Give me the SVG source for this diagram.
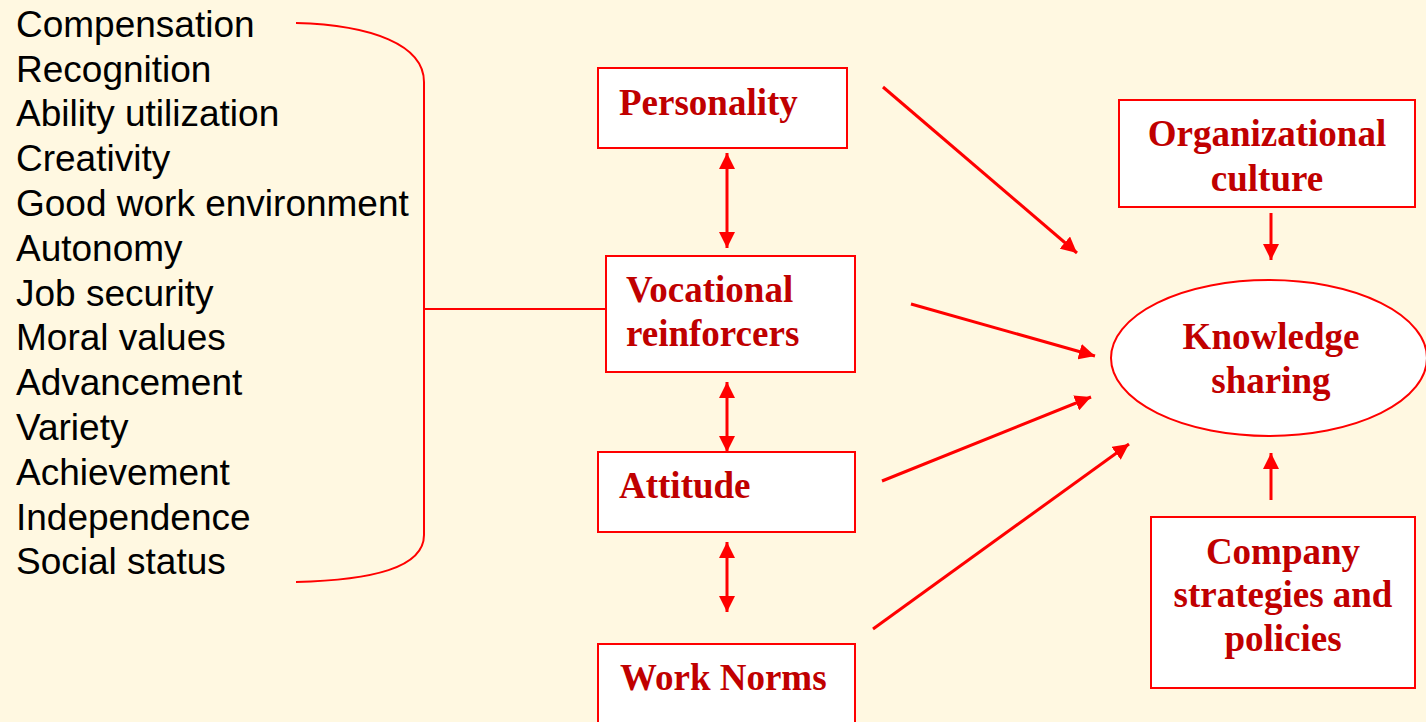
<svg xmlns="http://www.w3.org/2000/svg" width="1426" height="722" viewBox="0 0 1426 722">
  <defs>
    <marker id="ah" markerUnits="userSpaceOnUse" markerWidth="18" markerHeight="16" refX="16" refY="8" orient="auto-start-reverse" viewBox="0 0 18 16">
      <path d="M0,0 L16,8 L0,16 z" fill="#FF0000"/>
    </marker>
    <style>
      .list { font-family: "Liberation Sans", Arial, sans-serif; font-size: 37px; fill: #000000; }
      .lbl { font-family: "Liberation Serif", "Times New Roman", serif; font-size: 37px; font-weight: bold; fill: #C00000; }
      .box { fill: #FFFFFF; stroke: #FF0000; stroke-width: 2; }
      .conn { stroke: #FF0000; stroke-width: 3; fill: none; }
      .one { marker-end: url(#ah); }
      .two { marker-start: url(#ah); marker-end: url(#ah); }
      .brace { stroke: #FF0000; stroke-width: 2; fill: none; }
    </style>
  </defs>
  <rect x="0" y="0" width="1426" height="722" fill="#FFF8E1"/>

  <g id="factor-list">
    <text class="list" x="16" y="37">Compensation</text>
    <text class="list" x="16" y="82">Recognition</text>
    <text class="list" x="16" y="126">Ability utilization</text>
    <text class="list" x="16" y="171">Creativity</text>
    <text class="list" x="16" y="216">Good work environment</text>
    <text class="list" x="16" y="261">Autonomy</text>
    <text class="list" x="16" y="306">Job security</text>
    <text class="list" x="16" y="350">Moral values</text>
    <text class="list" x="16" y="395">Advancement</text>
    <text class="list" x="16" y="440">Variety</text>
    <text class="list" x="16" y="485">Achievement</text>
    <text class="list" x="16" y="530">Independence</text>
    <text class="list" x="16" y="574">Social status</text>
  </g>

  <g id="connectors">
    <path class="brace" d="M296,23 C372,25 424,45 424,82 L424,535 C424,568 372,580 296,582"/>
    <line class="brace" x1="424" y1="309" x2="605" y2="309"/>
    <line class="conn two" x1="727" y1="153" x2="727" y2="248"/>
    <line class="conn two" x1="727" y1="382" x2="727" y2="452"/>
    <line class="conn two" x1="727" y1="542" x2="727" y2="612"/>
    <line class="conn one" x1="883" y1="87" x2="1077" y2="253"/>
    <line class="conn one" x1="911" y1="304" x2="1095" y2="356"/>
    <line class="conn one" x1="882" y1="481" x2="1091" y2="397"/>
    <line class="conn one" x1="873" y1="629" x2="1129" y2="444"/>
    <line class="conn one" x1="1271" y1="213" x2="1271" y2="260"/>
    <line class="conn one" x1="1271" y1="500" x2="1271" y2="453"/>
  </g>

  <g id="personality">
    <rect class="box" x="598" y="68" width="249" height="80"/>
    <text class="lbl" x="619" y="115">Personality</text>
  </g>
  <g id="vocational-reinforcers">
    <rect class="box" x="606" y="256" width="249" height="116"/>
    <text class="lbl" x="626" y="302">Vocational</text>
    <text class="lbl" x="626" y="346">reinforcers</text>
  </g>
  <g id="attitude">
    <rect class="box" x="598" y="452" width="257" height="80"/>
    <text class="lbl" x="619" y="498">Attitude</text>
  </g>
  <g id="work-norms">
    <rect class="box" x="598" y="644" width="257" height="100"/>
    <text class="lbl" x="620" y="690">Work Norms</text>
  </g>
  <g id="organizational-culture">
    <rect class="box" x="1119" y="100" width="296" height="107"/>
    <text class="lbl" x="1267" y="146" text-anchor="middle">Organizational</text>
    <text class="lbl" x="1267" y="191" text-anchor="middle">culture</text>
  </g>
  <g id="knowledge-sharing">
    <ellipse class="box" cx="1269" cy="358" rx="158" ry="78"/>
    <text class="lbl" x="1271" y="349" text-anchor="middle">Knowledge</text>
    <text class="lbl" x="1271" y="393" text-anchor="middle">sharing</text>
  </g>
  <g id="company-strategies">
    <rect class="box" x="1151" y="517" width="264" height="171"/>
    <text class="lbl" x="1283" y="564" text-anchor="middle">Company</text>
    <text class="lbl" x="1283" y="607" text-anchor="middle">strategies and</text>
    <text class="lbl" x="1283" y="651" text-anchor="middle">policies</text>
  </g>
</svg>
